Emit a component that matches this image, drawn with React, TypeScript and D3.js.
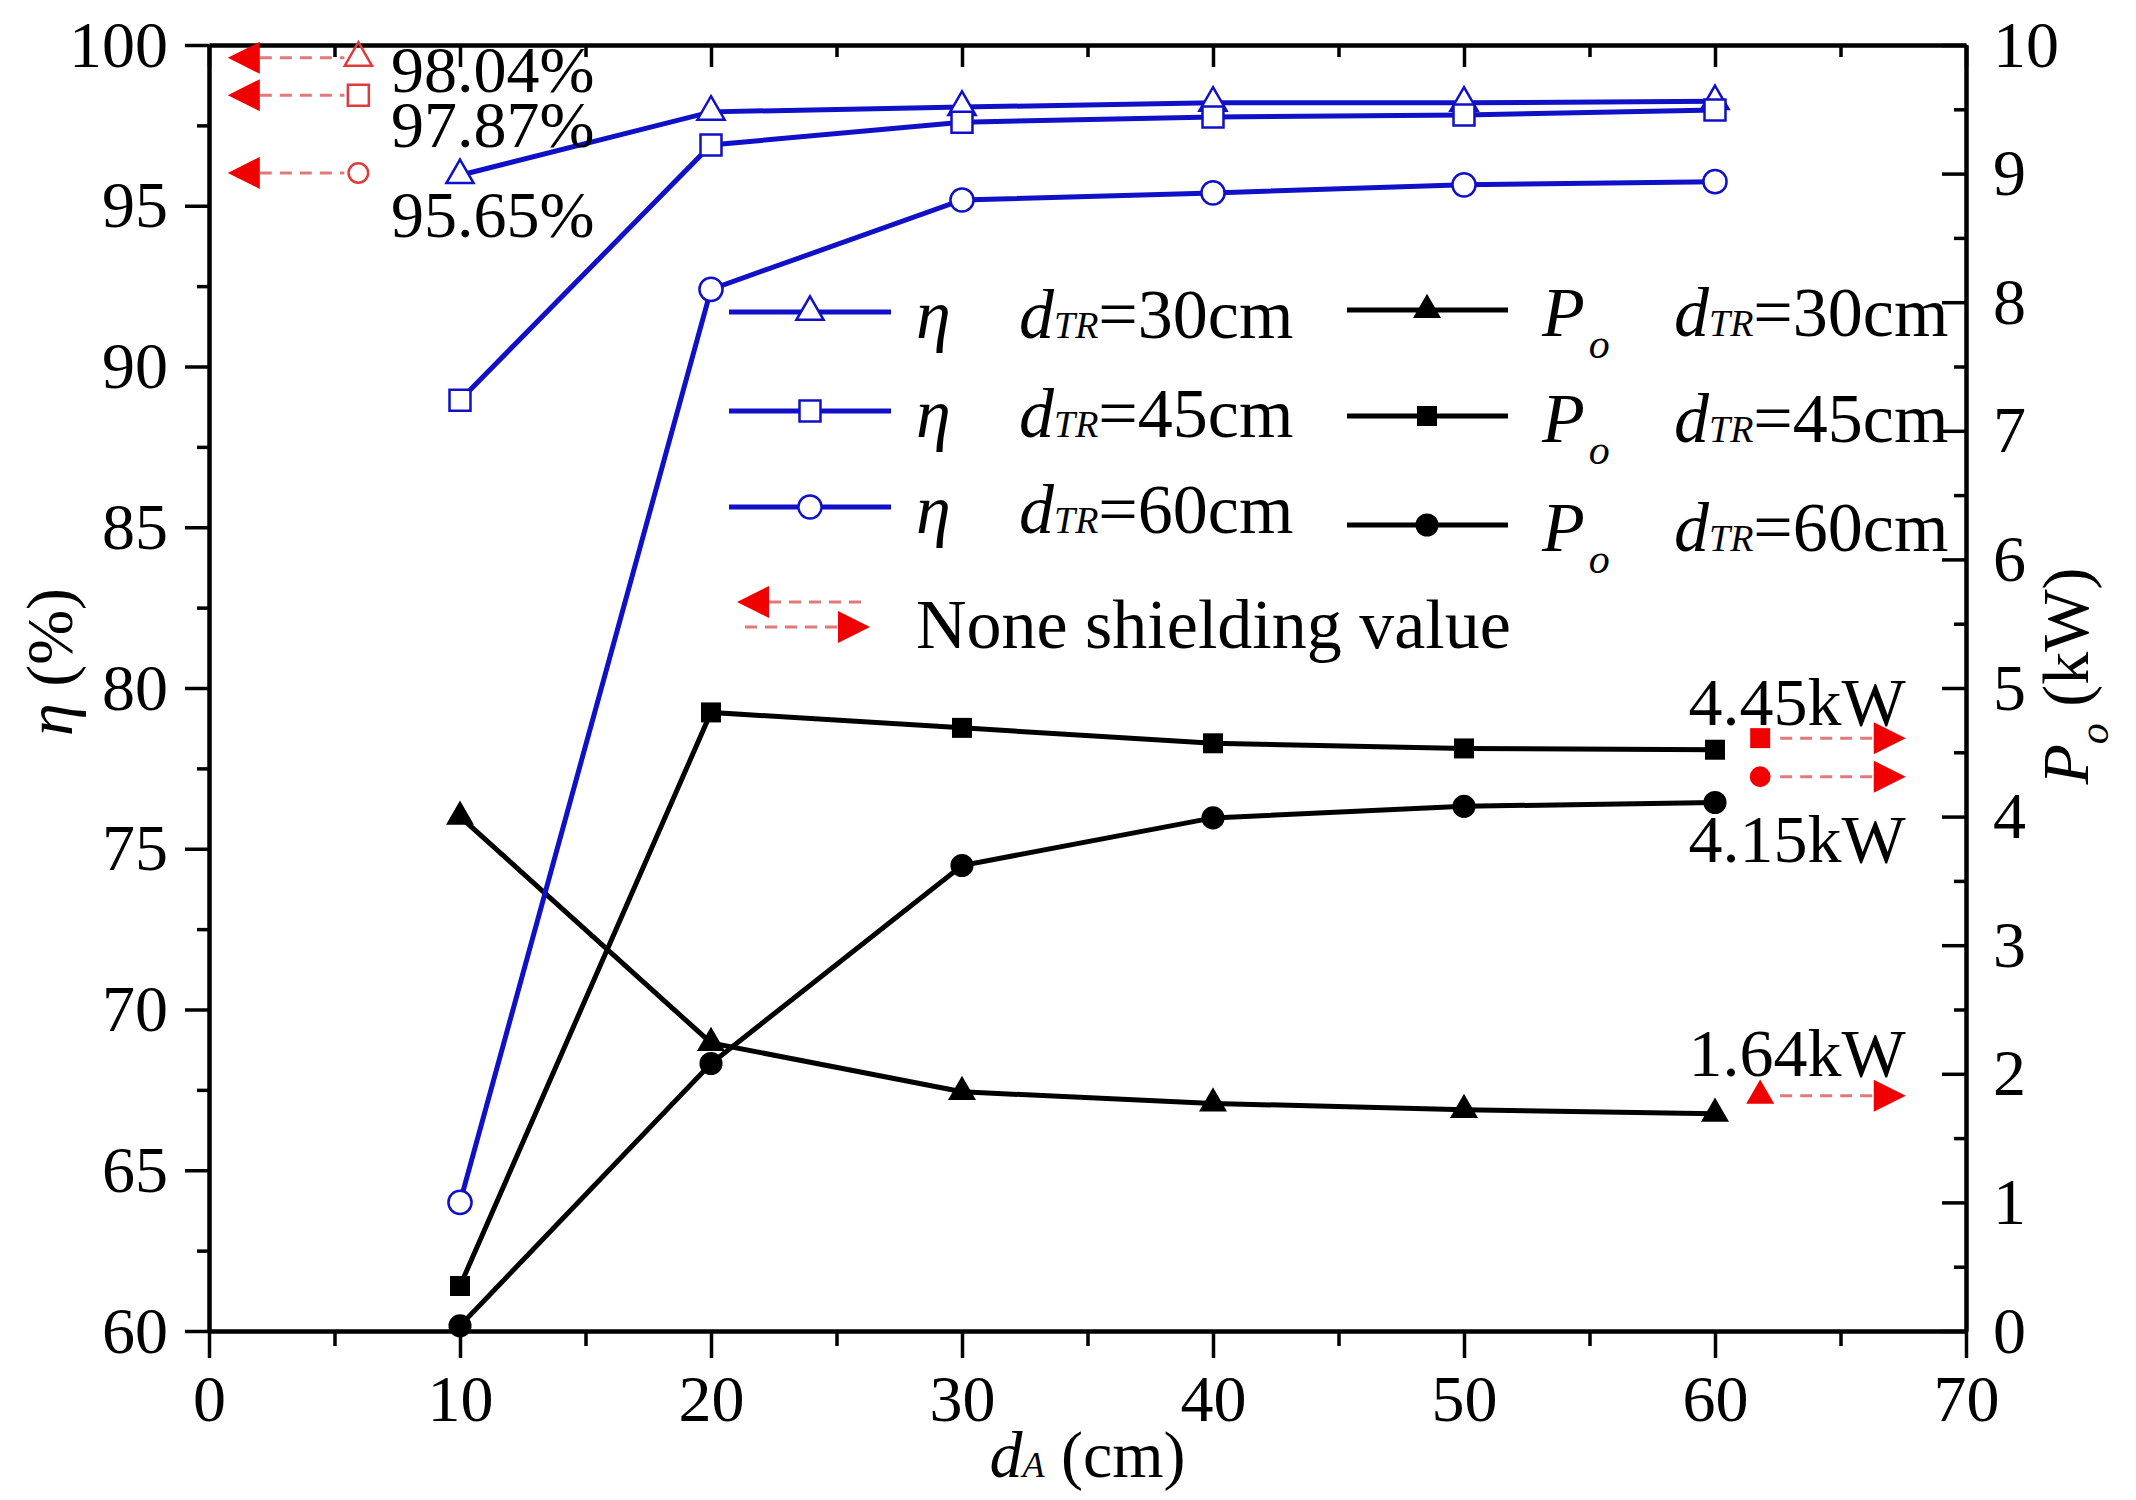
import React, { useRef, useEffect } from 'react';
import * as d3 from 'd3';

// distance d_A (cm)
const xVals = [10, 20, 30, 40, 50, 60];
// efficiency eta (%)
const etaD30 = [95.95, 97.92, 98.07, 98.2, 98.2, 98.25];
const etaD45 = [88.95, 96.89, 97.6, 97.76, 97.82, 97.98];
const etaD60 = [64.0, 92.4, 95.18, 95.4, 95.65, 95.75];
// output power Po (kW)
const poD30 = [4.0, 2.24, 1.86, 1.77, 1.72, 1.69];
const poD45 = [0.35, 4.81, 4.69, 4.57, 4.53, 4.52];
const poD60 = [0.04, 2.08, 3.62, 3.99, 4.08, 4.11];

const dtrLabels = ['30', '45', '60'];
const xTicks = [0, 10, 20, 30, 40, 50, 60, 70];
const yLeftTicks = [60, 65, 70, 75, 80, 85, 90, 95, 100];
const yRightTicks = [0, 1, 2, 3, 4, 5, 6, 7, 8, 9, 10];

// none shielding reference values
const shieldEta = ['98.04%', '97.87%', '95.65%'];
const shieldPo = ['4.45kW', '4.15kW', '1.64kW'];

const W = 2136;
const H = 1500;
const FONT = "'Liberation Serif', 'Times New Roman', serif";
const BLUE = '#1010c8';
const RED = '#f00000';
const DASH_RED = '#e07a7a';

const App = () => {
  const Svg = useRef<SVGSVGElement>(null);

  useEffect(() => {
    const margin = { top: 45, right: 170, bottom: 169, left: 209 };
    const svg = d3.select(Svg.current).attr('width', W).attr('height', H);
    svg.selectAll('*').remove();
    svg.append('rect').attr('width', W).attr('height', H).attr('fill', '#fff');

    const x = d3.scaleLinear().domain([0, 70]).range([margin.left, W - margin.right]);
    const yL = d3.scaleLinear().domain([60, 100]).range([H - margin.bottom, margin.top]);
    const yR = d3.scaleLinear().domain([0, 10]).range([H - margin.bottom, margin.top]);

    const styleAxis = (g, fs = 66) => {
      g.select('.domain').attr('stroke', '#000').attr('stroke-width', 4);
      g.selectAll('.tick line').attr('stroke', '#000').attr('stroke-width', 3.5);
      g.selectAll('.tick text').attr('font-family', FONT).attr('font-size', fs).attr('fill', '#000');
    };

    // minor ticks
    const xMinor = d3.range(5, 70, 10);
    const yLMinor = d3.range(62.5, 100, 5);
    const yRMinor = d3.range(0.5, 10, 1);

    const gb = svg.append('g').attr('transform', `translate(0,${H - margin.bottom})`);
    gb.call(d3.axisBottom(x).tickValues(xMinor).tickSize(15).tickSizeOuter(0).tickFormat(() => ''));
    styleAxis(gb);
    const gb2 = svg.append('g').attr('transform', `translate(0,${H - margin.bottom})`);
    gb2.call(d3.axisBottom(x).tickValues(xTicks).tickSize(27).tickSizeOuter(0).tickPadding(16).tickFormat(d3.format('d')));
    styleAxis(gb2);

    const gt = svg.append('g').attr('transform', `translate(0,${margin.top})`);
    gt.call(d3.axisTop(x).tickValues(xMinor).tickSize(-12).tickSizeOuter(0).tickFormat(() => ''));
    styleAxis(gt);
    const gt2 = svg.append('g').attr('transform', `translate(0,${margin.top})`);
    gt2.call(d3.axisTop(x).tickValues(xTicks).tickSize(-22).tickSizeOuter(0).tickFormat(() => ''));
    styleAxis(gt2);

    const gl = svg.append('g').attr('transform', `translate(${margin.left},0)`);
    gl.call(d3.axisLeft(yL).tickValues(yLMinor).tickSize(12).tickSizeOuter(0).tickFormat(() => ''));
    styleAxis(gl);
    const gl2 = svg.append('g').attr('transform', `translate(${margin.left},0)`);
    gl2.call(d3.axisLeft(yL).tickValues(yLeftTicks).tickSize(24).tickSizeOuter(0).tickPadding(17).tickFormat(d3.format('d')));
    styleAxis(gl2);

    const gr = svg.append('g').attr('transform', `translate(${W - margin.right},0)`);
    gr.call(d3.axisRight(yR).tickValues(yRMinor).tickSize(-12).tickSizeOuter(0).tickFormat(() => ''));
    styleAxis(gr);
    const gr2 = svg.append('g').attr('transform', `translate(${W - margin.right},0)`);
    gr2.call(d3.axisRight(yR).tickValues(yRightTicks).tickSize(-24).tickSizeOuter(0).tickPadding(27).tickFormat(d3.format('d')));
    styleAxis(gr2);

    // axis titles
    const xt = svg.append('text')
      .attr('x', (x(0) + x(70)) / 2)
      .attr('y', 1477)
      .attr('text-anchor', 'middle')
      .attr('font-family', FONT)
      .attr('font-size', 66);
    xt.append('tspan').attr('font-style', 'italic').text('d');
    xt.append('tspan').attr('font-style', 'italic').attr('font-size', 36).text('A');
    xt.append('tspan').text(' (cm)');

    const ylt = svg.append('text')
      .attr('transform', 'translate(72,662) rotate(-90)')
      .attr('text-anchor', 'middle')
      .attr('font-family', FONT)
      .attr('font-size', 66);
    ylt.append('tspan').attr('font-style', 'italic').text('η');
    ylt.append('tspan').text(' (%)');

    const yrt = svg.append('text')
      .attr('transform', 'translate(2088,676) rotate(-90)')
      .attr('text-anchor', 'middle')
      .attr('font-family', FONT)
      .attr('font-size', 66);
    yrt.append('tspan').attr('font-style', 'italic').text('P');
    yrt.append('tspan').attr('font-style', 'italic').attr('font-size', 42).attr('dy', 20).text('o');
    yrt.append('tspan').attr('dy', -20).text(' (kW)');

    // marker shapes
    const triSym = d3.symbol().type(d3.symbolTriangle).size(320);
    const sqSym = d3.symbol().type(d3.symbolSquare).size(440);
    const cirSym = d3.symbol().type(d3.symbolCircle).size(420);
    const fTriSym = d3.symbol().type(d3.symbolTriangle).size(340);
    const fSqSym = d3.symbol().type(d3.symbolSquare).size(400);
    const fCirSym = d3.symbol().type(d3.symbolCircle).size(420);

    const poSeries = [
      { vals: poD30, sym: fTriSym },
      { vals: poD45, sym: fSqSym },
      { vals: poD60, sym: fCirSym },
    ];
    const etaSeries = [
      { vals: etaD30, sym: triSym },
      { vals: etaD45, sym: sqSym },
      { vals: etaD60, sym: cirSym },
    ];

    poSeries.forEach((s) => {
      const line = d3.line<number>().x((d, i) => x(xVals[i])).y((d) => yR(d));
      svg.append('path').attr('d', line(s.vals)).attr('fill', 'none').attr('stroke', '#000').attr('stroke-width', 5);
      svg.append('g')
        .selectAll('path')
        .data(s.vals)
        .enter()
        .append('path')
        .attr('d', s.sym())
        .attr('transform', (d, i) => `translate(${x(xVals[i])},${yR(d)})`)
        .attr('fill', '#000');
    });

    etaSeries.forEach((s) => {
      const line = d3.line<number>().x((d, i) => x(xVals[i])).y((d) => yL(d));
      svg.append('path').attr('d', line(s.vals)).attr('fill', 'none').attr('stroke', BLUE).attr('stroke-width', 5);
      svg.append('g')
        .selectAll('path')
        .data(s.vals)
        .enter()
        .append('path')
        .attr('d', s.sym())
        .attr('transform', (d, i) => `translate(${x(xVals[i])},${yL(d)})`)
        .attr('fill', '#fff')
        .attr('stroke', BLUE)
        .attr('stroke-width', 2.5);
    });

    // arrow helper: dashed line + solid head
    const arrow = (x0, x1, yy, dir) => {
      const g = svg.append('g');
      const head = 32;
      const half = 16;
      if (dir < 0) {
        g.append('line').attr('x1', x0 + head).attr('x2', x1).attr('y1', yy).attr('y2', yy)
          .attr('stroke', DASH_RED).attr('stroke-width', 3).attr('stroke-dasharray', '12 8');
        g.append('path').attr('d', `M${x0},${yy}L${x0 + head},${yy - half}L${x0 + head},${yy + half}Z`).attr('fill', RED);
      } else {
        g.append('line').attr('x1', x0).attr('x2', x1 - head).attr('y1', yy).attr('y2', yy)
          .attr('stroke', DASH_RED).attr('stroke-width', 3).attr('stroke-dasharray', '12 8');
        g.append('path').attr('d', `M${x1},${yy}L${x1 - head},${yy - half}L${x1 - head},${yy + half}Z`).attr('fill', RED);
      }
    };

    // left annotations (eta, none shielding)
    const leftMarkY = [99.6, 98.44, 96.02];
    const leftTextY = [98.54, 96.83, 94.03];
    const leftSyms = [triSym, sqSym, d3.symbol().type(d3.symbolCircle).size(300)];
    shieldEta.forEach((lab, i) => {
      const my = yL(leftMarkY[i]);
      arrow(x(0.75), x(5.95) - 14, my, -1);
      svg.append('path').attr('d', leftSyms[i]())
        .attr('transform', `translate(${x(5.95)},${my})`)
        .attr('fill', 'none').attr('stroke', '#e03a3a').attr('stroke-width', 2.5);
      svg.append('text').attr('x', x(7.25)).attr('y', yL(leftTextY[i]))
        .attr('font-family', FONT).attr('font-size', 66).attr('fill', '#000').text(lab);
    });

    // right annotations (Po, none shielding)
    const rightMarkY = [4.61, 4.31, 1.83];
    const rightTextY = [4.71, 3.65, 1.98];
    const rightSyms = [fSqSym, d3.symbol().type(d3.symbolCircle).size(340), fTriSym];
    shieldPo.forEach((lab, i) => {
      const my = yR(rightMarkY[i]);
      svg.append('path').attr('d', rightSyms[i]())
        .attr('transform', `translate(${x(61.8)},${my})`)
        .attr('fill', RED);
      arrow(x(61.8) + 20, x(67.6), my, 1);
      svg.append('text').attr('x', x(67.6)).attr('y', yR(rightTextY[i]))
        .attr('text-anchor', 'end')
        .attr('font-family', FONT).attr('font-size', 68).attr('fill', '#000').text(lab);
    });

    // legend
    const lg = svg.append('g');
    const etaRowY = [312, 411, 507];
    const poRowY = [310, 416, 525];
    const dtrText = (tx, ty, v) => {
      const t = lg.append('text').attr('x', tx).attr('y', ty).attr('font-family', FONT).attr('font-size', 70);
      t.append('tspan').attr('font-style', 'italic').text('d');
      t.append('tspan').attr('font-style', 'italic').attr('font-size', 38).text('TR');
      t.append('tspan').text(`=${v}cm`);
    };
    dtrLabels.forEach((v, i) => {
      const ey = etaRowY[i];
      lg.append('line').attr('x1', 729).attr('x2', 891).attr('y1', ey).attr('y2', ey).attr('stroke', BLUE).attr('stroke-width', 5);
      lg.append('path').attr('d', etaSeries[i].sym()).attr('transform', `translate(810,${ey})`)
        .attr('fill', '#fff').attr('stroke', BLUE).attr('stroke-width', 2.5);
      lg.append('text').attr('x', 916).attr('y', ey + 26).attr('font-family', FONT).attr('font-size', 70)
        .attr('font-style', 'italic').text('η');
      dtrText(1019, ey + 26, v);

      const py = poRowY[i];
      lg.append('line').attr('x1', 1347).attr('x2', 1508).attr('y1', py).attr('y2', py).attr('stroke', '#000').attr('stroke-width', 5);
      lg.append('path').attr('d', poSeries[i].sym()).attr('transform', `translate(1427,${py})`).attr('fill', '#000');
      const pt = lg.append('text').attr('x', 1542).attr('y', py + 26).attr('font-family', FONT).attr('font-size', 70).attr('font-style', 'italic');
      pt.append('tspan').text('P');
      pt.append('tspan').attr('font-size', 42).attr('dx', 4).attr('dy', 22).text('o');
      dtrText(1674, py + 26, v);
    });
    arrow(737, 862, 602, -1);
    arrow(745, 870, 627, 1);
    lg.append('text').attr('x', 916).attr('y', 648).attr('font-family', FONT).attr('font-size', 70).text('None shielding value');
  }, []);

  return <svg ref={Svg} style={{ position: 'absolute', left: 0, top: 0 }} />;
};

export default App;
